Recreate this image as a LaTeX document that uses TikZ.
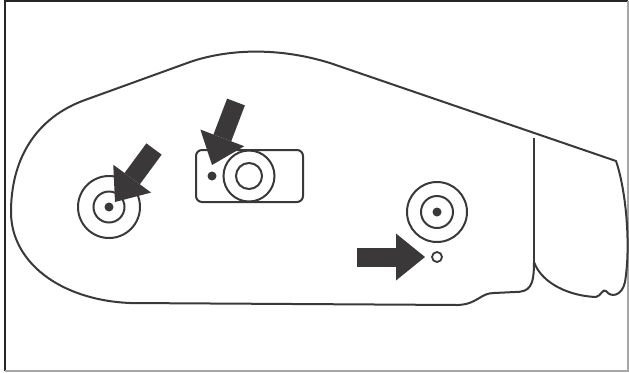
\documentclass[tikz,border=0pt]{standalone}
\usetikzlibrary{arrows.meta}
\definecolor{ink}{RGB}{58,56,57}

\begin{document}
\begin{tikzpicture}[
  x=1bp, y=-1bp,
  shell/.style={draw=ink,line width=2bp,line join=round},
  ring/.style={draw=ink,line width=2bp,circle,inner sep=0pt},
  dot/.style={fill=ink,circle,inner sep=0pt,minimum size=9bp},
  pointer/.style={draw=ink,line width=19bp,
                  -{Triangle[width=47bp,length=29bp,line width=0pt]}}
]
\useasboundingbox (0,0) rectangle (629,372);

% frame
\draw[line width=1.5bp,black!85] (628,1) -- (5,1) -- (5,371);
\draw[line width=1.5bp,black!35] (5,371) -- (628,371) -- (628,1);

% housing outline
\draw[shell] (534,262) .. controls (534,286) and (530,292) .. (515,292)
  -- (494,293) .. controls (480,293) and (478,304) .. (458,305)
  -- (130,303) .. controls (60,300) and (11,262) .. (11,212)
  .. controls (11,160) and (35,118) .. (85,100)
  -- (190,62) .. controls (225,50) and (275,46) .. (330,63)
  -- (616,161) .. controls (626,190) and (631,245) .. (625,282)
  .. controls (622,296) and (611,298) .. (606,291)
  .. controls (603,288) and (601,296) .. (596,297)
  .. controls (570,296) and (542,284) .. (534,262) -- cycle;
\draw[shell] (534,262) -- (534,138);

% left mount
\node[ring,minimum size=62bp] (leftOuter) at (109,207) {};
\node[ring,minimum size=31bp] (leftInner) at (leftOuter) {};
\node[dot] (leftDot) at (leftOuter) {};

% lens plate
\draw[shell,rounded corners=6bp] (196,150) rectangle (303,202);
\node[ring,minimum size=51bp] (lensOuter) at (249,176) {};
\node[ring,minimum size=26bp] (lensInner) at (lensOuter) {};
\node[dot] (plateDot) at (212,176) {};

% right mount
\node[ring,minimum size=60bp] (rightOuter) at (437,212) {};
\node[ring,minimum size=32bp] (rightInner) at (rightOuter) {};
\node[dot] (rightDot) at (rightOuter) {};
\node[ring,minimum size=10bp,line width=1.8bp] (vent) at (437,257) {};

% pointers
\coordinate (p1tail) at (154,149);
\coordinate (p1tip) at (115,202);
\coordinate (p2tail) at (236,102);
\coordinate (p2tip) at (212,165);
\coordinate (p3tail) at (357,257);
\coordinate (p3tip) at (425,257);
\draw[pointer] (p1tail) -- (p1tip);
\draw[pointer] (p2tail) -- (p2tip);
\draw[pointer] (p3tail) -- (p3tip);
\end{tikzpicture}
\end{document}
